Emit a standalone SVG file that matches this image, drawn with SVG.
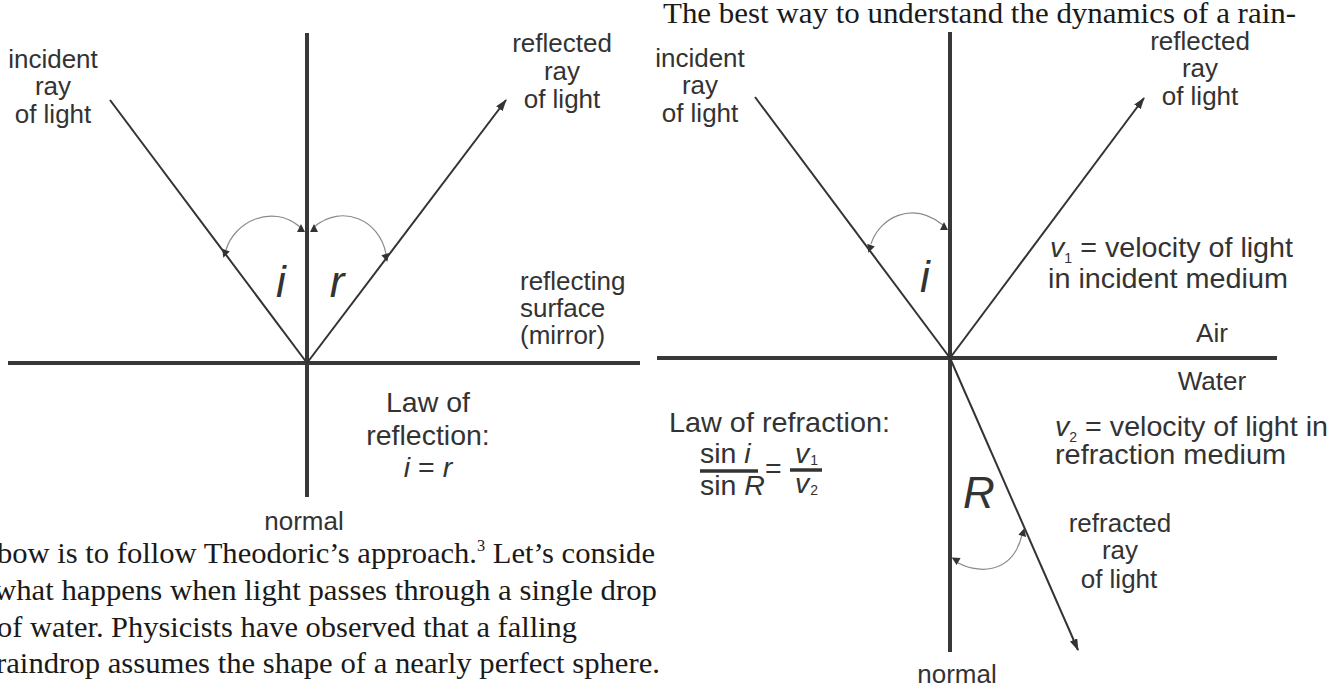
<svg xmlns="http://www.w3.org/2000/svg" xmlns:xlink="http://www.w3.org/1999/xlink" width="1344" height="690" viewBox="0 0 1344 690">
<style>
.axis{stroke:#383838;stroke-width:4;fill:none}
.ray{stroke:#333;stroke-width:2;fill:none}
.arc{stroke:#8a8a8a;stroke-width:1.2;fill:none}
.tri{fill:#333}
.lbl{font-family:"Liberation Sans",Arial,sans-serif;font-size:26px;fill:#333}
.lg{font-size:28.5px}
.mid{text-anchor:middle}
.big{font-family:"Liberation Sans",Arial,sans-serif;font-size:44px;font-style:italic;fill:#333}
.it{font-style:italic}
.sub{font-size:14px}
.body{font-family:"Liberation Serif","Times New Roman",serif;font-size:30px;fill:#1a1a1a}
</style>
<defs>
<marker id="ah" viewBox="0 0 12 8" refX="11" refY="4" markerWidth="12" markerHeight="8" markerUnits="userSpaceOnUse" orient="auto">
<path d="M0,0 L12,4 L0,8 Z" fill="#333"/>
</marker>
<path id="tri" d="M0,-5 L4,3 L-4,3 Z"/>
</defs>

<!-- page text -->
<g id="page-text">
<text class="body" x="663" y="23" textLength="633" lengthAdjust="spacingAndGlyphs">The best way to understand the dynamics of a rain-</text>
<text class="body" x="-3" y="563" textLength="658" lengthAdjust="spacingAndGlyphs">bow is to follow Theodoric’s approach.<tspan font-size="16" dy="-12">3</tspan><tspan dy="12"> Let’s conside</tspan></text>
<text class="body" x="-6" y="600" textLength="663" lengthAdjust="spacingAndGlyphs">what happens when light passes through a single drop</text>
<text class="body" x="-3" y="637" textLength="580" lengthAdjust="spacingAndGlyphs">of water. Physicists have observed that a falling</text>
<text class="body" x="-4" y="673" textLength="664" lengthAdjust="spacingAndGlyphs">raindrop assumes the shape of a nearly perfect sphere.</text>
</g>

<!-- connectors / lines -->
<g id="connectors">
<!-- left diagram: reflection -->
<line class="axis" x1="307" y1="33" x2="307" y2="497"/>
<line class="axis" x1="8" y1="363" x2="640" y2="363"/>
<line class="ray" x1="110" y1="100" x2="307" y2="363"/>
<line class="ray" x1="307" y1="363" x2="506" y2="100" marker-end="url(#ah)"/>
<path class="arc" d="M226,250 C234,222 272,203 300,227"/>
<path class="arc" d="M314,227 C342,203 380,220 386,254"/>
<use href="#tri" class="tri" transform="translate(301,229)"/>
<use href="#tri" class="tri" transform="translate(225,253) rotate(200)"/>
<use href="#tri" class="tri" transform="translate(314,229)"/>
<use href="#tri" class="tri" transform="translate(386,257) rotate(165)"/>

<!-- right diagram: refraction -->
<line class="axis" x1="950" y1="32" x2="950" y2="652"/>
<line class="axis" x1="657" y1="358" x2="1277" y2="358"/>
<line class="ray" x1="755" y1="97" x2="950" y2="358"/>
<line class="ray" x1="950" y1="358" x2="1144" y2="98" marker-end="url(#ah)"/>
<line class="ray" x1="950" y1="358" x2="1078" y2="650" marker-end="url(#ah)"/>
<path class="arc" d="M871,244 C879,218 912,200 943,225"/>
<path class="arc" d="M955,561 C975,574 1012,576 1022,535"/>
<use href="#tri" class="tri" transform="translate(944,227)"/>
<use href="#tri" class="tri" transform="translate(870,248) rotate(200)"/>
<use href="#tri" class="tri" transform="translate(956,560) rotate(-60)"/>
<use href="#tri" class="tri" transform="translate(1023,533) rotate(15)"/>
</g>

<!-- left diagram labels -->
<g id="incident-label-left">
<text class="lbl mid" x="53" y="68">incident</text>
<text class="lbl mid" x="53" y="95">ray</text>
<text class="lbl mid" x="53" y="123">of light</text>
</g>
<g id="reflected-label-left">
<text class="lbl mid" x="562" y="52">reflected</text>
<text class="lbl mid" x="562" y="80">ray</text>
<text class="lbl mid" x="562" y="108">of light</text>
</g>
<g id="angle-i-left"><text class="big mid" x="281" y="297">i</text></g>
<g id="angle-r-left"><text class="big mid" x="337" y="297">r</text></g>
<g id="surface-label">
<text class="lbl" x="520" y="290">reflecting</text>
<text class="lbl" x="520" y="317">surface</text>
<text class="lbl" x="520" y="344">(mirror)</text>
</g>
<g id="law-reflection">
<text class="lbl lg mid" x="428" y="412">Law of</text>
<text class="lbl lg mid" x="428" y="445">reflection:</text>
<text class="lbl lg mid" x="428" y="477"><tspan class="it">i</tspan> = <tspan class="it">r</tspan></text>
</g>
<g id="normal-left"><text class="lbl mid" x="304" y="530">normal</text></g>

<!-- right diagram labels -->
<g id="incident-label-right">
<text class="lbl mid" x="700" y="67">incident</text>
<text class="lbl mid" x="700" y="94">ray</text>
<text class="lbl mid" x="700" y="122">of light</text>
</g>
<g id="reflected-label-right">
<text class="lbl mid" x="1200" y="50">reflected</text>
<text class="lbl mid" x="1200" y="77">ray</text>
<text class="lbl mid" x="1200" y="105">of light</text>
</g>
<g id="angle-i-right"><text class="big mid" x="925" y="292">i</text></g>
<g id="v1-label">
<text class="lbl lg" x="1050" y="257" textLength="243" lengthAdjust="spacingAndGlyphs"><tspan class="it">v</tspan><tspan class="sub" dy="6">1</tspan><tspan dy="-6"> = velocity of light</tspan></text>
<text class="lbl lg" x="1048" y="288" textLength="240" lengthAdjust="spacingAndGlyphs">in incident medium</text>
</g>
<g id="air-label"><text class="lbl mid" x="1212" y="342">Air</text></g>
<g id="water-label"><text class="lbl mid" x="1212" y="390">Water</text></g>
<g id="v2-label">
<text class="lbl lg" x="1055" y="436" textLength="273" lengthAdjust="spacingAndGlyphs"><tspan class="it">v</tspan><tspan class="sub" dy="6">2</tspan><tspan dy="-6"> = velocity of light in</tspan></text>
<text class="lbl lg" x="1055" y="464" textLength="231" lengthAdjust="spacingAndGlyphs">refraction medium</text>
</g>
<g id="law-refraction">
<text class="lbl lg" x="669" y="432" textLength="221" lengthAdjust="spacingAndGlyphs">Law of refraction:</text>
<text class="lbl lg" x="700" y="463">sin <tspan class="it">i</tspan></text>
<line x1="700" y1="471" x2="758" y2="471" stroke="#333" stroke-width="3.5"/>
<text class="lbl lg" x="700" y="495">sin <tspan class="it">R</tspan></text>
<text class="lbl lg" x="765" y="478">=</text>
<text class="lbl lg" x="795" y="463"><tspan class="it">v</tspan><tspan class="sub" dx="1" dy="2">1</tspan></text>
<line x1="790" y1="470" x2="822" y2="470" stroke="#333" stroke-width="3.5"/>
<text class="lbl lg" x="795" y="493"><tspan class="it">v</tspan><tspan class="sub" dx="1" dy="2">2</tspan></text>
</g>
<g id="angle-R"><text class="big mid" x="979" y="508">R</text></g>
<g id="refracted-label">
<text class="lbl mid" x="1120" y="532">refracted</text>
<text class="lbl mid" x="1120" y="559">ray</text>
<text class="lbl mid" x="1119" y="588">of light</text>
</g>
<g id="normal-right"><text class="lbl mid" x="957" y="683">normal</text></g>
</svg>
